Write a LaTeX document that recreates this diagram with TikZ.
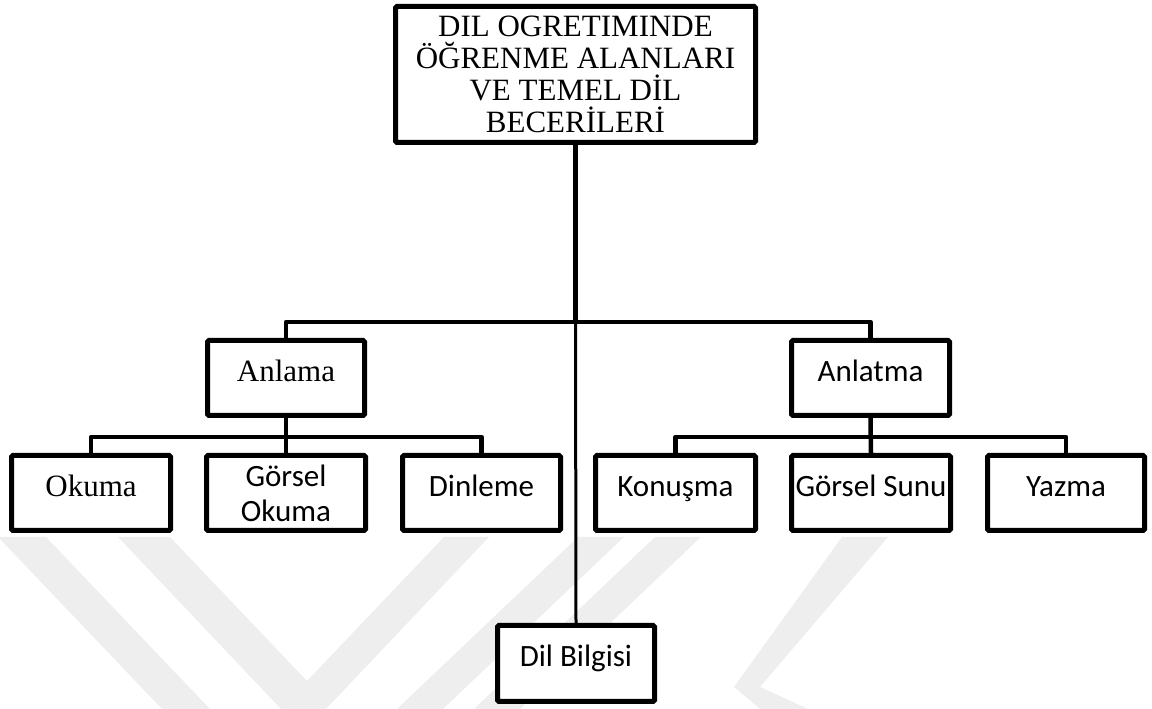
\documentclass[tikz,border=0pt]{standalone}
\usepackage{fontspec}
\setmainfont{Liberation Serif}
\newfontfamily\calibri{Carlito}
\usepackage{tikz}

\definecolor{wmark}{gray}{0.935}
\tikzset{
	box/.style={draw, line width=5pt, rounded corners=1.5pt, fill=white, inner sep=0pt},
	oneline/.style={box, text height=0.66em, text depth=0pt},
	link/.style={line width=4.5pt, line join=round},
	thinlink/.style={line width=3pt},
	serif/.style={font=\fontsize{31}{32}\selectfont},
	sans/.style={font=\calibri\fontsize{31}{35}\selectfont},
}

\begin{document}
\begin{tikzpicture}[x=1pt, y=1pt]
	\useasboundingbox (0,0) rectangle (1152,709);
	% watermark
	\fill[wmark] (-2,172) -- (46,172) -- (210,0) -- (162,0) -- cycle;
	\fill[wmark] (118,172) -- (170,172) -- (307,28) -- (444,172) -- (489,172) -- (326,0) -- (281,0) -- cycle;
	\fill[wmark] (578,172) -- (624,172) -- (443,0) -- (397,0) -- cycle;
	\fill[wmark] (655,172) -- (701,172) -- (520,0) -- (474,0) -- cycle;
	\fill[wmark] (842,172) -- (888,172) -- (760,22) -- (808,0) -- (760,0) -- (734,22) -- cycle;

	\node[box, serif, align=center, minimum width=360pt, minimum height=136pt] (root) at (575.5,634.5)
		{DIL OGRETIMINDE\\ÖĞRENME ALANLARI\\VE TEMEL DİL\\BECERİLERİ};

	\node[oneline, serif, minimum width=157pt, minimum height=75pt] (anlama) at (286,331) {Anlama};
	\node[oneline, sans, minimum width=158pt, minimum height=75pt] (anlatma) at (870.5,331) {Anlatma};

	\node[oneline, serif, minimum width=159pt, minimum height=75pt] (okuma) at (91,216) {Okuma};
	\node[box, sans, align=center, minimum width=159pt, minimum height=75pt] (gokuma) at (286,216) {Görsel\\Okuma};
	\node[oneline, sans, minimum width=158pt, minimum height=75pt] (dinleme) at (481.5,216) {Dinleme};
	\node[oneline, sans, minimum width=160pt, minimum height=75pt] (konusma) at (675.5,216) {Konuşma};
	\node[oneline, sans, minimum width=159pt, minimum height=75pt] (gsunu) at (871,216) {Görsel Sunu};
	\node[oneline, sans, minimum width=157pt, minimum height=75pt] (yazma) at (1066,216) {Yazma};

	\node[oneline, sans, minimum width=157pt, minimum height=76pt] (dilb) at (576,45.5) {Dil Bilgisi};

	\coordinate (bus) at (575.5,387);
	\coordinate (lbus) at (286,272);
	\coordinate (rbus) at (871,272);

	\draw[link] (root.south) -- (bus);
	\draw[thinlink] (bus) -- (dilb.north);
	\draw[link] (anlama.north) |- (bus) -| (anlatma.north);
	\draw[link] (anlama.south) -- (gokuma.north);
	\draw[link] (okuma.north) |- (lbus) -| (dinleme.north);
	\draw[link] (anlatma.south) -- (gsunu.north);
	\draw[link] (konusma.north) |- (rbus) -| (yazma.north);
\end{tikzpicture}
\end{document}
